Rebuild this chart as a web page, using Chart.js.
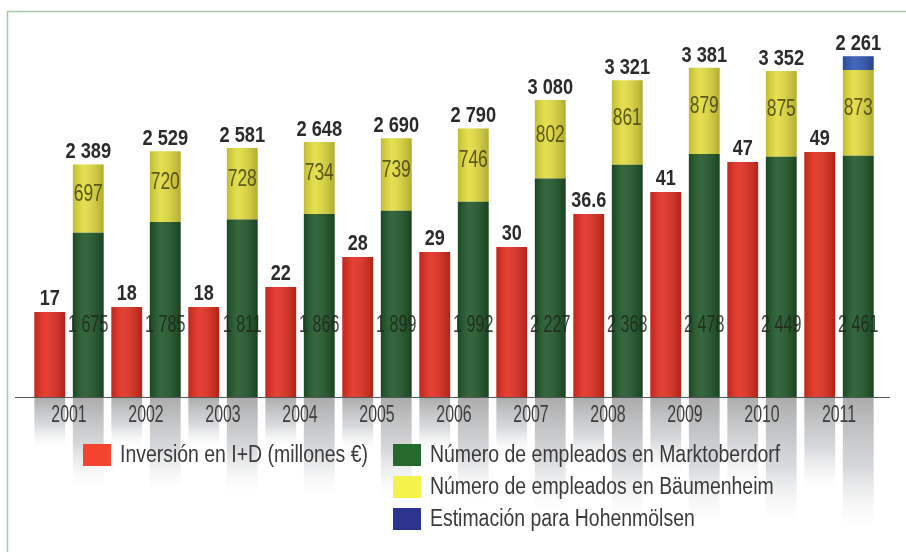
<!DOCTYPE html>
<html>
<head>
<meta charset="utf-8">
<script src="https://cdn.jsdelivr.net/npm/chart.js@4.4.1/dist/chart.umd.min.js"></script>
<style>
  html, body { margin: 0; padding: 0; background: #fff; }
  #wrap { width: 906px; height: 552px; }
</style>
</head>
<body>
<div id="wrap"><canvas id="chart"></canvas></div>
<script>
const years = ["2001", "2002", "2003", "2004", "2005", "2006", "2007", "2008", "2009", "2010", "2011"];
const investment = [17, 18, 18, 22, 28, 29, 30, 36.6, 41, 47, 49];
const marktoberdorf = [1675, 1785, 1811, 1866, 1899, 1992, 2227, 2368, 2478, 2449, 2461];
const baumenheim = [697, 720, 728, 734, 739, 746, 802, 861, 879, 875, 873];
const hohenmolsen = [null, null, null, null, null, null, null, null, null, null, 140];
const totals = [2389, 2529, 2581, 2648, 2690, 2790, 3080, 3321, 3381, 3352, 2261];

const FONT = '"Liberation Sans", Arial, sans-serif';

function fmt(v) {
    // thousands with a space, like the original
    return String(v).replace(/\B(?=(\d{3})+(?!\d))/g, " ");
}

// condensed text: squeeze horizontally
function txt(c, s, x, y, sx) {
    c.save();
    c.translate(x, y);
    c.scale(sx, 1);
    c.fillText(s, 0, 0);
    c.restore();
}

const legendItems = [
    { text: "Inversión en I+D (millones €)", color: "#f4432f", x: 83, y: 444 },
    { text: "Número de empleados en Marktoberdorf", color: "#236a2c", x: 393, y: 444 },
    { text: "Número de empleados en Bäumenheim", color: "#f5f24c", x: 393, y: 476 },
    { text: "Estimación para Hohenmölsen", color: "#2b3590", x: 393, y: 508 }
];

const decoPlugin = {
    id: "deco",
    beforeDraw(chart) {
        const c = chart.ctx;
        c.save();
        c.fillStyle = "#fff";
        c.fillRect(0, 0, chart.width, chart.height);
        c.strokeStyle = "#a9c9a9";
        c.lineWidth = 1.5;
        c.strokeRect(7.5, 11.5, chart.width + 20, chart.height + 20);
        c.restore();
    },
    beforeDatasetsDraw(chart) {
        // grey reflections under the baseline
        const c = chart.ctx;
        const base = chart.chartArea.bottom;
        const tops = {};
        chart.data.datasets.forEach((ds, i) => {
            chart.getDatasetMeta(i).data.forEach((el, j) => {
                if (ds.data[j] == null) return;
                const key = ds.stack + "_" + j;
                if (!tops[key] || el.y < tops[key].y) tops[key] = { x: el.x, w: el.width, y: el.y };
            });
        });
        c.save();
        Object.values(tops).forEach(t => {
            const len = Math.max(50, (base - t.y) * 0.38);
            const g = c.createLinearGradient(0, base, 0, base + len);
            g.addColorStop(0, "rgba(150,150,150,0.8)");
            g.addColorStop(0.55, "rgba(175,180,185,0.5)");
            g.addColorStop(1, "rgba(225,225,225,0)");
            c.fillStyle = g;
            c.fillRect(t.x - t.w / 2, base + 1, t.w, len);
        });
        c.restore();
    },
    afterDatasetsDraw(chart) {
        const c = chart.ctx;
        const base = chart.chartArea.bottom;
        c.save();

        // cylinder-ish shading on every bar
        chart.data.datasets.forEach((ds, i) => {
            chart.getDatasetMeta(i).data.forEach((el, j) => {
                if (ds.data[j] == null) return;
                const l = el.x - el.width / 2;
                const g = c.createLinearGradient(l, 0, l + el.width, 0);
                g.addColorStop(0, "rgba(0,0,0,0.15)");
                g.addColorStop(0.35, "rgba(255,255,255,0.10)");
                g.addColorStop(1, "rgba(0,0,0,0.22)");
                c.fillStyle = g;
                c.fillRect(l, el.y, el.width, el.base - el.y);
            });
        });

        const red = chart.getDatasetMeta(0).data;
        const green = chart.getDatasetMeta(1).data;
        const yellow = chart.getDatasetMeta(2).data;
        const blue = chart.getDatasetMeta(3).data;

        c.textAlign = "center";
        c.textBaseline = "alphabetic";

        // values on red bars
        c.fillStyle = "#2b2b2b";
        c.font = "bold 22px " + FONT;
        red.forEach((el, j) => txt(c, String(investment[j]), el.x, el.y - 7, 0.82));

        // totals above the stacks
        yellow.forEach((el, j) => {
            let top = el.y;
            if (hohenmolsen[j] != null) top = blue[j].y;
            txt(c, fmt(totals[j]), el.x, top - 6, 0.83);
        });

        // inner labels
        c.font = "23px " + FONT;
        c.textBaseline = "middle";
        c.fillStyle = "rgba(30,38,28,0.85)";
        green.forEach((el, j) => txt(c, fmt(marktoberdorf[j]), el.x, base - 71, 0.7));
        c.fillStyle = "rgba(70,66,20,0.85)";
        yellow.forEach((el, j) => txt(c, fmt(baumenheim[j]), el.x, (el.y + el.base) / 2 - 4, 0.76));

        // baseline and years
        c.strokeStyle = "#555";
        c.lineWidth = 1;
        c.beginPath();
        c.moveTo(15, Math.round(base) + 0.5);
        c.lineTo(890, Math.round(base) + 0.5);
        c.stroke();

        const xs = chart.scales.x;
        c.fillStyle = "#3d3d3d";
        c.font = "23px " + FONT;
        years.forEach((y, j) => txt(c, y, xs.getPixelForValue(j), base + 19, 0.69));
        c.restore();
    },
    afterDraw(chart) {
        const c = chart.ctx;
        c.save();
        c.font = "23px " + FONT;
        c.textAlign = "left";
        c.textBaseline = "middle";
        const sx = 248 / c.measureText(legendItems[0].text).width;
        legendItems.forEach(it => {
            c.fillStyle = it.color;
            c.fillRect(it.x, it.y, 28, 22);
            c.fillStyle = "#3a3a3a";
            txt(c, it.text, it.x + 37, it.y + 12, sx);
        });
        c.restore();
    }
};

const ctx = document.getElementById("chart").getContext("2d");

const chart = new Chart(ctx, {
    type: "bar",
    data: {
        labels: years,
        datasets: [
            { label: "Inversión en I+D (millones €)", data: investment, backgroundColor: "#e22b1d", stack: "inv", yAxisID: "y1" },
            { label: "Número de empleados en Marktoberdorf", data: marktoberdorf, backgroundColor: "#1e5527", stack: "emp", yAxisID: "y" },
            { label: "Número de empleados en Bäumenheim", data: baumenheim, backgroundColor: "#e2dc3c", stack: "emp", yAxisID: "y" },
            { label: "Estimación para Hohenmölsen", data: hohenmolsen, backgroundColor: "#2d55b4", stack: "emp", yAxisID: "y" }
        ]
    },
    options: {
        responsive: true,
        maintainAspectRatio: false,
        animation: false,
        datasets: {
            bar: { categoryPercentage: 1.0, barPercentage: 0.8, borderWidth: 0 }
        },
        layout: { padding: { left: 30.5, right: 28.5, top: 42, bottom: 155 } },
        scales: {
            x: { display: false, stacked: true },
            y: { display: false, stacked: true, min: 0, max: 3620 },
            y1: { display: false, stacked: true, min: 0, max: 71 }
        },
        plugins: {
            legend: { display: false },
            tooltip: { enabled: false }
        }
    },
    plugins: [decoPlugin]
});
</script>
</body>
</html>
